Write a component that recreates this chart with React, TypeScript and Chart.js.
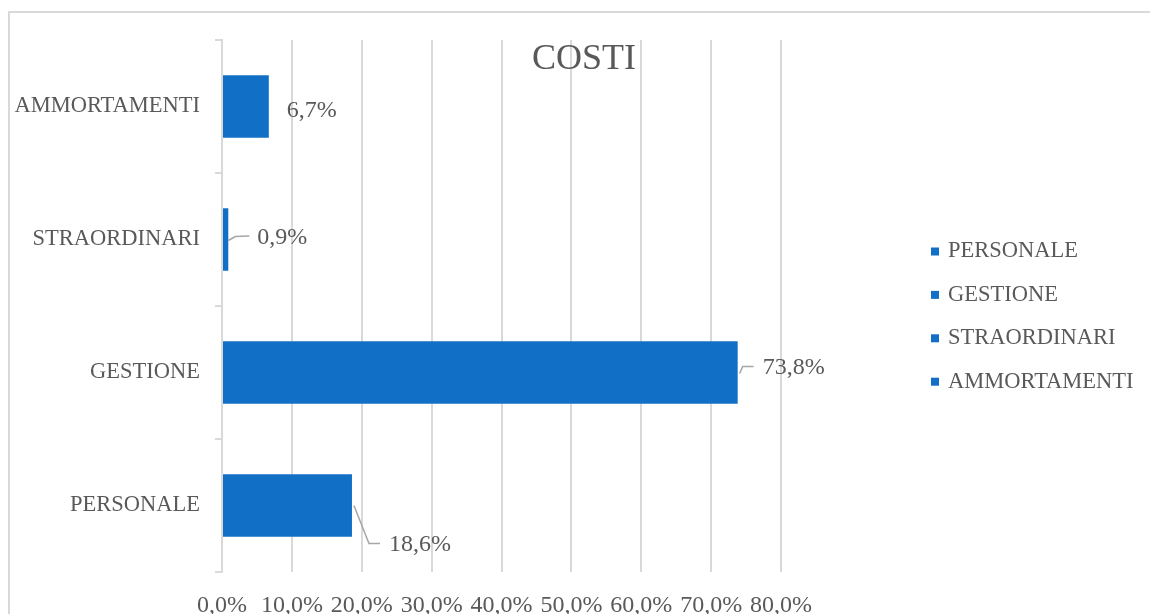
import React, { useEffect, useRef } from 'react';
import { Chart, registerables } from 'chart.js';

Chart.register(...registerables);

// ---- data ----
const categories = ['PERSONALE', 'GESTIONE', 'STRAORDINARI', 'AMMORTAMENTI'];
const costShares = [18.6, 73.8, 0.9, 6.7];
const xTickMin = 0;
const xTickMax = 80;
const xTickStep = 10;
const chartTitle = 'COSTI';

// ---- styling / layout constants ----
const FONT = "'Liberation Serif', serif";
const TEXT = '#595959';
const GRID = '#D9D9D9';
const BAR = '#1170C6';
const LEADER = '#A6A6A6';

// data label offsets relative to bar end / bar center (pixels)
const LABEL_LAYOUT: { dx: number; dy: number; leader: number[][] | null }[] = [
  { dx: 37, dy: 39, leader: [[2, 0], [17, 38], [28, 38]] },
  { dx: 25, dy: -4.5, leader: [[2, 1], [5, -6], [16, -6]] },
  { dx: 29, dy: -1.5, leader: [[0, 1], [7, -3], [21, -3.5]] },
  { dx: 18, dy: 4, leader: null },
];

const fmt = (v: number) => v.toFixed(1).replace('.', ',') + '%';

const framePlugin = {
  id: 'frame',
  beforeDraw(chart: any) {
    const ctx = chart.ctx;
    ctx.save();
    ctx.fillStyle = '#FFFFFF';
    ctx.fillRect(0, 0, chart.width, chart.height);
    ctx.strokeStyle = GRID;
    ctx.lineWidth = 2;
    ctx.beginPath();
    ctx.moveTo(9, chart.height + 2);
    ctx.lineTo(9, 12);
    ctx.lineTo(chart.width + 2, 12);
    ctx.stroke();
    ctx.restore();
  },
};

const overlayPlugin = {
  id: 'overlay',
  afterDraw(chart: any) {
    const ctx = chart.ctx;
    ctx.save();
    // title
    ctx.fillStyle = TEXT;
    ctx.font = `36px ${FONT}`;
    ctx.textAlign = 'center';
    ctx.textBaseline = 'alphabetic';
    ctx.fillText(chartTitle, 584, 69);

    // data labels
    const meta = chart.getDatasetMeta(0);
    const ds = chart.data.datasets[0].data as number[];
    meta.data.forEach((bar: any, i: number) => {
      const lay = LABEL_LAYOUT[i];
      const xe = bar.x;
      const yc = bar.y;
      if (lay.leader) {
        ctx.strokeStyle = LEADER;
        ctx.lineWidth = 1.5;
        ctx.beginPath();
        lay.leader.forEach((p, k) => {
          if (k === 0) ctx.moveTo(xe + p[0], yc + p[1]);
          else ctx.lineTo(xe + p[0], yc + p[1]);
        });
        ctx.stroke();
      }
      ctx.fillStyle = TEXT;
      ctx.font = `24px ${FONT}`;
      ctx.textAlign = 'left';
      ctx.textBaseline = 'middle';
      ctx.fillText(fmt(ds[i]), xe + lay.dx, yc + lay.dy);
    });

    // legend
    const labels = chart.data.labels as string[];
    ctx.font = `22.5px ${FONT}`;
    ctx.textAlign = 'left';
    ctx.textBaseline = 'middle';
    labels.forEach((lab, i) => {
      const y = 251.5 + i * 43.4;
      ctx.fillStyle = BAR;
      ctx.fillRect(931, y - 4, 8, 8);
      ctx.fillStyle = TEXT;
      ctx.fillText(lab, 948, y);
    });
    ctx.restore();
  },
};

export default function App() {
  const ref = useRef<HTMLCanvasElement | null>(null);
  useEffect(() => {
    if (!ref.current) return;
    Chart.defaults.font.family = FONT;
    Chart.defaults.color = TEXT;
    const chart = new Chart(ref.current, {
      type: 'bar',
      data: {
        labels: categories,
        datasets: [
          {
            label: chartTitle,
            data: costShares,
            backgroundColor: BAR,
            borderWidth: 0,
            categoryPercentage: 1,
            barPercentage: 0.47,
          },
        ],
      },
      options: {
        indexAxis: 'y',
        responsive: false,
        animation: false,
        layout: { padding: { left: 0, top: 40, right: 369, bottom: 0 } },
        plugins: {
          legend: { display: false },
          title: { display: false },
          tooltip: { enabled: false },
        },
        scales: {
          x: {
            min: xTickMin,
            max: xTickMax,
            ticks: {
              stepSize: xTickStep,
              padding: 19,
              color: TEXT,
              font: { size: 24, family: FONT },
              callback: (v: any) => fmt(Number(v)),
              maxRotation: 0,
              autoSkip: false,
            },
            grid: { color: GRID, lineWidth: 2, drawTicks: false },
            border: { display: false },
            afterFit: (s: any) => {
              s.height = 42;
            },
          },
          y: {
            reverse: true,
            ticks: {
              padding: 15,
              color: TEXT,
              font: { size: 22.5, family: FONT },
            },
            grid: {
              offset: true,
              drawOnChartArea: false,
              drawTicks: true,
              tickLength: 7,
              color: GRID,
              lineWidth: 2,
            },
            border: { display: true, color: GRID, width: 2 },
            afterFit: (s: any) => {
              s.width = 222;
            },
          },
        },
      },
      plugins: [framePlugin, overlayPlugin],
    });
    return () => chart.destroy();
  }, []);
  return (
    <div style={{ position: 'absolute', left: 0, top: 0, width: 1150, height: 614 }}>
      <canvas ref={ref} width={1150} height={614} style={{ display: 'block' }} />
    </div>
  );
}
